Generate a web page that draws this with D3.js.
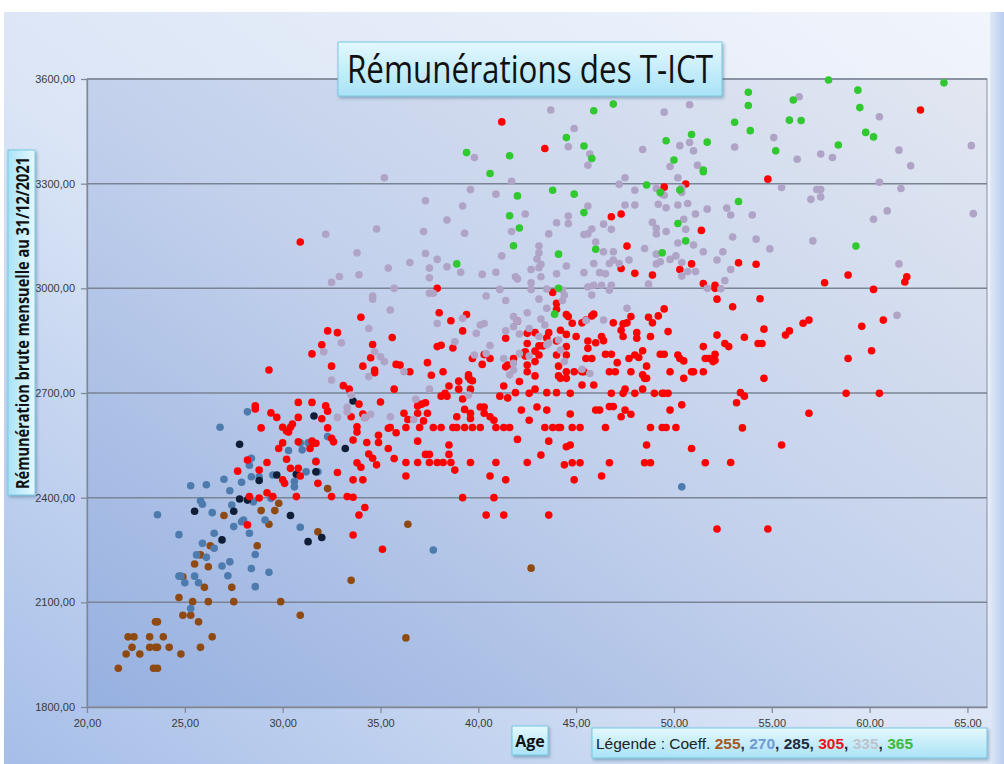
<!DOCTYPE html>
<html><head><meta charset="utf-8">
<script src="https://cdn.jsdelivr.net/npm/d3@7"></script>
<style>html,body{margin:0;padding:0;background:#fff;}svg{display:block}</style>
</head><body><svg id="c" width="1004" height="764"></svg>
<script>
// ---- DATA : [âge, rémunération brute mensuelle] ----
const coeff255 = [[21.6,1911],[22.0,1952],[22.1,2001],[22.4,2001],[22.3,1971],[22.7,1952],[23.2,2001],[23.2,1971],[23.5,2044],[23.6,2044],[23.5,1971],[23.6,1971],[23.4,1911],[23.6,1911],[23.9,2001],[24.2,1971],[24.8,1952],[24.7,2114],[24.9,2173],[24.9,2063],[25.3,2063],[25.4,2102],[25.5,2210],[25.8,2236],[25.7,2044],[25.8,1971],[26.0,2143],[26.2,2202],[26.2,2102],[26.3,2262],[26.4,2001],[27.0,2349],[27.4,2143],[27.5,2102],[28.7,2262],[28.9,2363],[29.3,2324],[29.6,2363],[29.8,2384],[29.9,2102],[30.9,2063],[31.8,2302],[32.3,2426],[33.5,2163],[36.4,2324],[42.7,2198],[36.3,1998]];
const coeff270 = [[23.6,2351],[24.7,2294],[24.7,2175],[24.8,2175],[25.0,2156],[25.3,2434],[25.3,2082],[25.5,2175],[25.7,2156],[25.6,2236],[25.8,2391],[25.9,2381],[26.1,2437],[25.9,2269],[26.1,2229],[26.4,2357],[26.5,2298],[26.5,2255],[26.8,2602],[26.9,2204],[27.0,2453],[27.2,2176],[27.3,2420],[27.3,2216],[27.4,2379],[27.5,2317],[27.9,2444],[27.9,2331],[28.0,2336],[28.2,2646],[28.3,2493],[28.4,2513],[28.4,2460],[28.3,2298],[28.4,2197],[28.5,2388],[28.6,2237],[28.6,2145],[28.8,2460],[29.1,2336],[29.3,2186],[29.4,2398],[29.5,2465],[30.3,2535],[30.6,2446],[30.6,2431],[30.9,2557],[31.0,2537],[31.2,2474],[31.3,2557],[30.9,2315],[31.7,2505],[31.8,2474],[32.3,2575],[37.7,2250],[50.4,2431]];
const coeff285 = [[25.5,2361],[26.9,2279],[27.5,2361],[27.8,2396],[27.8,2553],[28.2,2393],[28.8,2449],[29.7,2465],[30.4,2349],[30.7,2467],[31.3,2274],[31.6,2634],[31.7,2474],[32.0,2286],[33.2,2541],[33.6,2677]];
const coeff305 = [
[29.3,2766],[31.5,2812],[32.0,2838],[32.3,2878],[32.8,2873],[32.5,2777],[33.1,2721],[33.4,2711],[30.8,2673],[31.5,2673],[28.6,2663],[28.6,2654],[29.4,2643],[29.7,2630],[30.8,2630],[32.2,2663],[32.3,2648],[32.0,2626],[33.5,2632],[28.9,2600],[30.0,2602],[30.2,2591],[30.4,2602],[30.5,2611],[30.3,2588],[32.3,2600],[32.5,2570],[32.6,2560],[30.8,2560],[31.5,2562],[31.6,2556],[31.7,2556],[31.4,2541],[30.0,2557],[29.8,2541],[32.8,2472],[30.2,2510],[29.2,2501],[28.2,2508],[27.7,2476],[28.8,2479],[30.4,2484],[30.8,2484],[30.9,2462],[30.1,2441],[30.0,2451],[31.8,2441],[31.7,2503],[29.2,2414],[28.3,2403],[28.8,2399],[29.5,2403],[30.7,2403],[32.5,2403],[33.3,2403],[28.2,2322],
[34.0,2917],[34.6,2839],[34.5,2801],[34.1,2777],[34.7,2766],[34.7,2758],[33.9,2668],[35.0,2674],[34.1,2640],[34.2,2630],[33.8,2603],[33.8,2588],[33.6,2565],[34.3,2558],[34.9,2579],[34.9,2558],[35.4,2541],[35.4,2599],[34.4,2525],[34.6,2513],[34.8,2494],[33.8,2500],[34.0,2487],[33.6,2451],[34.1,2451],[33.6,2401],[34.2,2372],[33.9,2350],[33.6,2293],[35.1,2252],
[37.9,3000],[38.0,2930],[39.4,2925],[38.6,2907],[39.2,2878],[35.6,2859],[37.9,2833],[38.1,2837],[38.7,2829],[35.8,2782],[36.0,2780],[36.5,2761],[37.4,2787],[38.2,2761],[37.6,2751],[39.7,2799],[40.2,2782],[40.3,2810],[40.6,2799],[39.5,2745],[39.6,2738],[39.7,2735],[39.5,2752],[39.0,2734],[39.6,2711],[39.0,2711],[38.5,2720],[38.1,2691],[38.3,2699],[38.4,2691],[35.7,2711],[39.2,2683],[36.9,2663],[37.1,2668],[37.3,2672],[36.2,2642],[36.9,2642],[37.4,2642],[36.4,2624],[37.2,2620],[35.8,2586],
[36.3,2601],[37.0,2601],[37.7,2601],[38.1,2601],[38.7,2601],[38.9,2601],[39.3,2601],[39.7,2601],[40.1,2601],
[38.9,2632],[39.3,2653],[39.6,2642],[39.6,2627],[40.1,2660],[40.3,2660],[40.3,2642],[40.6,2632],[40.8,2622],[40.9,2601],[41.3,2601],[41.6,2601],[41.1,2691],[41.5,2686],[41.3,2720],[41.9,2701],[42.2,2651],[42.6,2622],[43.0,2660],[43.5,2651],[43.4,2601],[43.8,2601],[44.1,2601],[42.9,2711],[42.6,2699],[42.1,2733],[41.4,2775],[41.5,2780],[41.8,2799],[41.4,2857],[42.4,2806],[42.3,2814],[42.4,2818],[42.5,2842],[42.5,2871],[42.9,2873],[42.5,2780],[42.5,2761],[42.9,2790],[42.9,2749],[42.9,2820],[43.1,2809],[43.1,2835],[43.3,2835],[43.6,2873],[43.5,2858],[44.0,2849],[44.0,2809],[44.1,2777],[44.1,2749],
[43.8,2988],[44.0,2957],[44.0,2940],[42.0,2906],[43.5,2701],[44.0,2701],[42.0,2567],[43.2,2522],[43.6,2562],[42.5,2501],[40.9,2501],[39.6,2501],[37.5,2501],[37.9,2501],[38.2,2501],[38.6,2501],[36.9,2501],[36.3,2501],[35.7,2512],[37.3,2524],[37.5,2524],[38.5,2524],[38.5,2551],[36.9,2562],[38.8,2479],[40.6,2462],[41.4,2451],[36.3,2462],[35.5,2601],
[48.0,3043],[48.9,3038],[51.5,3014],[52.1,3009],[52.1,3000],[52.2,2969],[44.5,2925],[44.6,2919],[44.8,2900],[44.2,2880],[45.3,2901],[45.5,2909],[45.8,2921],[45.9,2926],[46.9,2901],[47.4,2898],[47.6,2901],[47.3,2880],[47.8,2919],[48.7,2917],[48.9,2901],[49.2,2921],[49.5,2941],[48.1,2873],[48.1,2857],[47.4,2862],[48.8,2862],[49.7,2876],[44.5,2868],[45.0,2862],[44.5,2833],[44.5,2809],[45.6,2849],[45.6,2828],[46.0,2844],[46.3,2862],[46.4,2850],[45.5,2799],[45.8,2799],[46.5,2811],[46.8,2811],[47.1,2787],[47.7,2799],[48.0,2809],[48.2,2802],[48.4,2821],[48.6,2777],[49.3,2811],[49.5,2811],[50.2,2809],[50.3,2799],[50.5,2792],[51.5,2833],[51.6,2799],[51.8,2799],[52.0,2790],[52.1,2794],[52.1,2811],[52.2,2866],
[44.5,2761],[44.9,2761],[45.3,2761],[45.4,2761],[44.2,2742],[44.5,2742],[45.3,2723],[45.9,2723],[46.7,2761],[47.0,2761],[47.8,2761],[48.4,2752],[48.5,2742],[48.6,2742],[48.4,2711],[49.8,2761],[50.5,2742],[50.9,2761],[51.0,2761],[51.5,2761],[44.7,2699],[46.8,2699],[47.4,2699],[47.5,2711],[48.0,2699],[49.0,2699],[49.4,2699],[49.5,2699],[49.7,2699],[50.4,2666],[46.0,2651],[46.2,2651],[46.7,2661],[46.9,2661],[47.5,2651],[47.8,2639],[47.3,2632],[49.8,2651],[44.7,2640],[44.2,2601],[44.8,2601],[45.2,2601],[46.5,2601],[48.8,2601],[49.4,2601],[49.6,2601],[50.1,2601],[44.5,2546],[44.7,2551],[48.6,2551],[50.9,2541],[44.4,2494],[44.8,2500],[45.2,2500],[46.7,2500],[48.5,2500],[48.8,2500],[51.6,2500],[44.9,2451],[46.3,2462],
[53.3,3073],[54.2,3069],[58.9,3038],[57.7,3016],[60.2,2997],[61.9,3033],[61.8,3018],[54.4,2970],[53.0,2947],[54.6,2883],[53.6,2860],[52.6,2842],[52.8,2833],[54.3,2842],[54.5,2842],[55.7,2866],[55.9,2878],[56.6,2900],[56.9,2909],[59.6,2891],[60.7,2909],[60.1,2821],[58.9,2799],[54.6,2742],[53.4,2701],[53.6,2691],[53.2,2672],[58.8,2699],[60.5,2699],[56.9,2642],[53.5,2600],[55.5,2551],[52.9,2501],
[52.2,2310],[54.8,2310],[39.2,2400],[40.8,2400],[40.4,2350],[41.3,2350],[43.6,2350],
[41.2,3477],[43.4,3401],[46.8,3205],[47.3,3213],[47.6,3121],[47.3,3057],[62.6,3511],[54.8,3313],[49.5,3290],[50.6,3299],[51.4,3166],[50.9,3070],[50.3,3054],[30.9,3133]];
const coeff335 = [
[43.7,3511],[44.9,3458],[48.4,3398],[39.8,3375],[44.6,3406],[45.7,3385],[45.6,3353],[35.2,3317],[41.7,3307],[47.5,3317],[47.2,3298],[48.0,3281],[39.6,3283],[40.9,3270],[37.3,3251],[39.2,3236],[47.5,3239],[48.0,3239],[45.6,3236],[42.4,3213],[44.6,3207],[44.6,3186],[44.0,3188],[38.4,3196],[34.8,3170],[32.2,3155],[37.2,3163],[39.3,3158],[41.7,3163],[43.6,3156],[45.4,3154],[45.6,3156],[45.8,3170],[46.4,3184],[46.8,3169],[48.5,3114],[33.8,3102],[37.3,3100],[36.5,3074],[37.9,3083],[38.4,3062],[41.2,3093],[43.1,3121],[43.1,3102],[46.4,3105],[46.9,3105],[46.0,3133],[47.7,3081],[35.4,3058],[33.9,3039],[32.5,3017],[32.9,3034],[35.7,3000],[37.5,3058],[37.5,3030],[37.5,2986],[37.7,2986],[34.6,2978],[34.6,2969],[35.5,2938],[40.2,3040],[40.9,3046],[39.1,3046],[42.0,3027],[42.7,3054],[42.7,3016],[43.1,3059],[43.2,3033],[44.0,3042],[42.7,2997],[43.5,2998],[43.1,2969],[41.1,2997],[40.4,2978],[41.4,2965],[42.5,2930],[43.5,2943],[44.3,2995],[44.4,2981],[44.3,2965],[45.6,3004],[45.9,3009],[46.3,3009],[46.7,2995],[46.5,3042],[46.7,3071],[46.9,3081],[47.2,3071],[45.9,3071],[45.4,3045],[44.5,3064],[43.0,3084],[43.2,3069],[41.9,3033],[34.4,2885],[37.9,2899],[39.2,2914],[40.1,2895],[40.3,2899],[39.9,2871],[38.8,2847],[40.6,2836],[41.4,2878],[41.8,2919],[42.0,2906],[42.1,2869],[42.6,2885],[43.1,2862],[43.5,2838],[43.6,2843],[44.1,2852],[33.0,2844],[32.1,2818],[34.7,2818],[35.0,2804],[35.2,2790],[32.5,2737],[34.4,2747],[36.2,2761],[43.2,2912],
[49.5,3505],[50.8,3526],[56.4,3549],[60.5,3492],[50.3,3409],[50.8,3418],[51.0,3394],[53.1,3405],[55.1,3432],[56.3,3370],[57.5,3385],[58.1,3375],[61.5,3396],[65.2,3409],[62.1,3351],[49.8,3349],[51.2,3353],[50.2,3317],[49.1,3286],[49.4,3270],[49.5,3267],[50.4,3288],[50.4,3275],[55.5,3289],[57.3,3283],[57.5,3283],[57.5,3262],[57.0,3255],[60.5,3304],[61.6,3286],[49.2,3241],[49.6,3231],[50.2,3239],[50.7,3243],[51.7,3227],[51.1,3213],[52.7,3230],[52.9,3210],[54.0,3210],[48.9,3189],[49.1,3172],[49.1,3156],[49.6,3163],[50.5,3198],[50.6,3169],[50.2,3130],[51.0,3124],[53.0,3147],[54.2,3141],[60.2,3198],[60.9,3222],[54.9,3113],[57.1,3136],[49.1,3098],[49.1,3070],[49.3,3076],[49.8,3083],[50.1,3093],[50.4,3074],[50.4,3035],[50.7,3048],[51.1,3048],[51.5,3105],[52.2,3081],[52.5,3105],[52.9,3054],[52.6,3022],[61.5,3070],[61.4,2923],[48.7,3012],[51.7,3000],[52.4,2999],[65.3,3214],
[39.8,2809],[41.3,2799],[41.6,2752],[41.8,2785],[41.8,2766],[39.5,2694],[37.5,2711],[36.8,2682],[36.7,2624],[35.5,2632],[33.3,2659],[33.3,2646],[32.8,2630],[34.2,2630],[34.5,2639],[33.5,2694],[47.6,2943],[45.5,2908],[45.8,2981],[46.2,3045],[46.8,3009],
[43.4,2895],[41.8,2890],[40.4,2813],[42.1,2813],[42.6,2806],[44.2,2823],[44.4,2790],[45.3,2768],[45.7,2756],[46.4,2909]];
const coeff365 = [[46.9,3528],[45.9,3509],[44.5,3432],[45.4,3408],[45.8,3372],[39.4,3389],[41.6,3380],[40.6,3329],[48.6,3296],[42.0,3265],[43.8,3281],[44.9,3270],[41.6,3208],[42.1,3173],[45.4,3217],[41.8,3122],[44.1,3098],[46.0,3112],[38.9,3070],[44.1,3000],[43.9,2926],[57.9,3597],[63.8,3589],[53.8,3562],[59.4,3568],[53.8,3524],[56.1,3540],[59.5,3518],[53.1,3476],[55.9,3482],[56.5,3481],[53.9,3452],[59.8,3447],[60.2,3434],[49.6,3423],[50.9,3441],[51.7,3419],[58.4,3411],[55.2,3394],[50.0,3368],[51.5,3339],[51.5,3334],[49.3,3275],[50.3,3282],[53.3,3249],[50.2,3186],[50.6,3136],[49.4,3102],[59.3,3121]];

const seriesNames = ["255","270","285","305","335","365"];
const yTickValues = [1800,2100,2400,2700,3000,3300,3600];
const xTickValues = [20,25,30,35,40,45,50,55,60,65];
const titleText = "Rémunérations des T-ICT";
const yLabelText = "Rémunération brute mensuelle au 31/12/2021";
const xLabelText = "Age";

// ---- STYLE ----
const colors = {"255":"#8e4a12","270":"#4d7bad","285":"#0f1d36","305":"#ff0000","335":"#afa3c6","365":"#30c930"};
const legendColors = {"255":"#a45a1e","270":"#6f9bd1","285":"#1b2a41","305":"#e8141c","335":"#c2c2cc","365":"#3cba3c"};
const seriesData = {"255":coeff255,"270":coeff270,"285":coeff285,"305":coeff305,"335":coeff335,"365":coeff365};

const svg = d3.select("#c");
const defs = svg.append("defs");
const g1 = defs.append("linearGradient").attr("id","bg").attr("x1","1").attr("y1","0").attr("x2","0").attr("y2","1");
g1.append("stop").attr("offset","0").attr("stop-color","#f1f5fc");
g1.append("stop").attr("offset","0.55").attr("stop-color","#dbe5f6");
g1.append("stop").attr("offset","1").attr("stop-color","#a6bee8");
const g2 = defs.append("linearGradient").attr("id","pa").attr("x1","1").attr("y1","0").attr("x2","0").attr("y2","1");
g2.append("stop").attr("offset","0").attr("stop-color","#e2e7f1");
g2.append("stop").attr("offset","0.5").attr("stop-color","#c3d1ec");
g2.append("stop").attr("offset","1").attr("stop-color","#96b0e0");
const g3 = defs.append("linearGradient").attr("id","box").attr("x1","0").attr("y1","0").attr("x2","0").attr("y2","1");
g3.append("stop").attr("offset","0").attr("stop-color","#e4f8fe");
g3.append("stop").attr("offset","1").attr("stop-color","#a9e3f6");
const g4 = defs.append("linearGradient").attr("id","boxh").attr("x1","0").attr("y1","0").attr("x2","1").attr("y2","0");
g4.append("stop").attr("offset","0").attr("stop-color","#a9e3f6");
g4.append("stop").attr("offset","1").attr("stop-color","#e4f8fe");
const g5 = defs.append("linearGradient").attr("id","rs").attr("x1","0").attr("y1","0").attr("x2","1").attr("y2","0");
g5.append("stop").attr("offset","0").attr("stop-color","#dfe8f7");
g5.append("stop").attr("offset","1").attr("stop-color","#b9cdef");
const sh = defs.append("filter").attr("id","sh").attr("x","-10%").attr("y","-20%").attr("width","130%").attr("height","150%");
sh.append("feDropShadow").attr("dx",1.5).attr("dy",2).attr("stdDeviation",1.5).attr("flood-color","#3d6a8a").attr("flood-opacity",0.45);

svg.append("rect").attr("x",0).attr("y",0).attr("width",1004).attr("height",764).attr("fill","#ffffff");
svg.append("rect").attr("x",4).attr("y",12).attr("width",1000).attr("height",752).attr("fill","url(#bg)");
svg.append("rect").attr("x",990).attr("y",12).attr("width",14).attr("height",752).attr("fill","url(#rs)");

const L=87, R=987, T=79, B=707;
const x = d3.scaleLinear().domain([20,66]).range([L,R]);
const y = d3.scaleLinear().domain([1800,3600]).range([B,T]);
const fmt = v => d3.format(".2f")(v).replace(".",",");

svg.append("rect").attr("x",L).attr("y",T).attr("width",R-L).attr("height",B-T).attr("fill","url(#pa)").attr("stroke","#8a8f9a").attr("stroke-width",1);

// gridlines
svg.append("g").selectAll("line").data(yTickValues.filter(v=>v>1800)).join("line")
  .attr("x1",L).attr("x2",R).attr("y1",d=>y(d)).attr("y2",d=>y(d))
  .attr("stroke","#7a8494").attr("stroke-width",1.5);

// axes
const ax = svg.append("g").attr("transform",`translate(0,${B})`)
  .call(d3.axisBottom(x).tickValues(xTickValues).tickFormat(fmt).tickSize(6).tickSizeOuter(0).tickPadding(6));
const ay = svg.append("g").attr("transform",`translate(${L},0)`)
  .call(d3.axisLeft(y).tickValues(yTickValues).tickFormat(fmt).tickSize(6).tickSizeOuter(0).tickPadding(6));
[ax,ay].forEach(a=>{
  a.select(".domain").attr("stroke","#7f8694").attr("stroke-width",1.3);
  a.selectAll(".tick line").attr("stroke","#7f8694").attr("stroke-width",1.2);
  a.selectAll(".tick text").attr("fill","#3a3a3a").style("font-family","'Liberation Sans',Arial,sans-serif").style("font-size","11px");
});

// points
const pts = svg.append("g");
seriesNames.forEach(s=>{
  pts.append("g").selectAll("circle").data(seriesData[s]).join("circle")
    .attr("cx",d=>x(d[0])).attr("cy",d=>y(d[1])).attr("r",3.8)
    .attr("fill",colors[s]);
});

// title box
svg.append("rect").attr("x",338).attr("y",42).attr("width",384).attr("height",54)
  .attr("fill","url(#box)").attr("stroke","#79c8e2").attr("stroke-width",1).attr("filter","url(#sh)");
svg.append("text").attr("x",530).attr("y",83).attr("text-anchor","middle")
  .attr("textLength",366).attr("lengthAdjust","spacingAndGlyphs")
  .style("font-family","'Open Sans','Noto Sans',sans-serif").style("font-size","39px").attr("fill","#111")
  .text(titleText);

// y label box
svg.append("rect").attr("x",8).attr("y",150).attr("width",27).attr("height",345)
  .attr("fill","url(#boxh)").attr("stroke","#79c8e2").attr("stroke-width",1).attr("filter","url(#sh)");
svg.append("text").attr("transform","translate(28.5,323) rotate(-90)").attr("text-anchor","middle")
  .attr("textLength",332).attr("lengthAdjust","spacingAndGlyphs")
  .style("font-family","'Open Sans','Noto Sans',sans-serif").style("font-size","18px").style("font-weight","bold").attr("fill","#111")
  .text(yLabelText);

// x label box
svg.append("rect").attr("x",512).attr("y",726).attr("width",36).attr("height",29)
  .attr("fill","url(#box)").attr("stroke","#79c8e2").attr("stroke-width",1).attr("filter","url(#sh)");
svg.append("text").attr("x",530).attr("y",747).attr("text-anchor","middle")
  .style("font-family","'Open Sans','Noto Sans',sans-serif").style("font-size","16px").style("font-weight","bold").attr("fill","#111")
  .text(xLabelText);

// legend box
svg.append("rect").attr("x",592).attr("y",728).attr("width",395).attr("height",30)
  .attr("fill","url(#box)").attr("stroke","#79c8e2").attr("stroke-width",1).attr("filter","url(#sh)");
const lt = svg.append("text").attr("x",596).attr("y",748.5)
  .style("font-family","'Liberation Sans',Arial,sans-serif").style("font-size","15.5px").attr("fill","#222");
lt.append("tspan").text("Légende : Coeff. ");
seriesNames.forEach((s,i)=>{
  lt.append("tspan").style("font-weight","bold").attr("fill",legendColors[s]).text(s);
  if(i<seriesNames.length-1) lt.append("tspan").style("font-weight","bold").attr("fill","#1b2a41").text(", ");
});
</script>
</body></html>
